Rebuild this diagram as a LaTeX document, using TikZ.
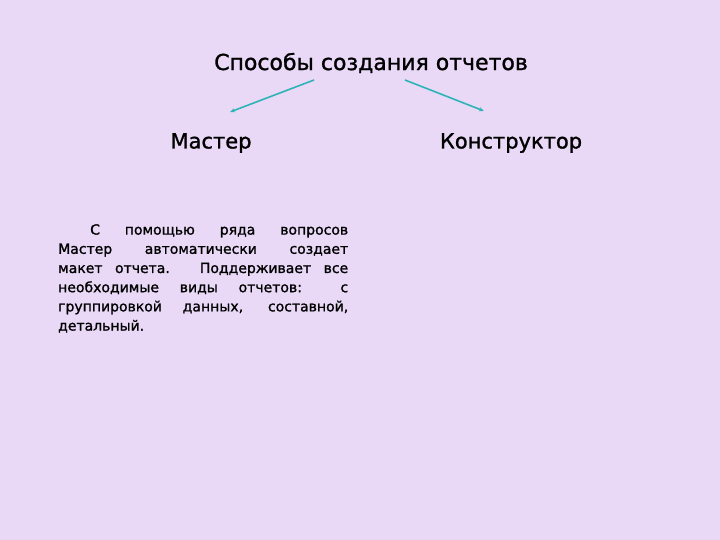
\documentclass[tikz,border=0pt]{standalone}
\usepackage{fontspec}
\setmainfont{DejaVu Sans}[FakeBold=1.2]
\usetikzlibrary{arrows.meta}
\definecolor{bg}{HTML}{E9D9F7}
\definecolor{arr}{HTML}{2EB4B6}
\begin{document}
\begin{tikzpicture}[x=1pt,y=1pt,
  heading/.style={font=\fontsize{22}{26}\selectfont, inner sep=0pt},
  sub/.style={font=\fontsize{21}{25}\selectfont, inner sep=0pt},
  body/.style={font=\fontsize{14}{19.2}\selectfont, inner sep=0pt, text width=290pt, align=justify, anchor=north west},
  conn/.style={draw=arr, line width=1.6pt, -{Stealth[length=5pt,width=4pt]}}]
\fill[bg] (0,0) rectangle (720,540);
\useasboundingbox (0,0) rectangle (720,540);
\node[heading] (title) at (371,477) {Способы создания отчетов};
\node[sub] (master) at (211,397) {Мастер};
\node[sub] (constr) at (511,397) {Конструктор};
\node[body] (para) at (58,316) {\hspace*{32pt}С помощью ряда вопросов\linebreak Мастер автоматически создает\linebreak макет отчета. Поддерживает все\linebreak необходимые виды отчетов: с\linebreak группировкой данных, составной,\linebreak детальный.};
\coordinate (a1s) at (314,460);
\coordinate (a1e) at (230,428);
\coordinate (a2s) at (405,460);
\coordinate (a2e) at (484,429);
\draw[conn] (a1s) -- (a1e);
\draw[conn] (a2s) -- (a2e);
\end{tikzpicture}
\end{document}
